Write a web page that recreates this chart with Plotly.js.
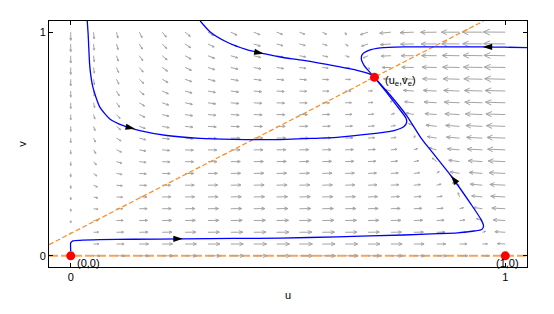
<!DOCTYPE html>
<html><head><meta charset="utf-8">
<script src="https://cdn.plot.ly/plotly-3.0.1.min.js"></script>
<style>html,body{margin:0;padding:0;background:#fff;overflow:hidden}</style>
</head><body>
<div id="chart" style="width:554px;height:314px"></div>
<script>
// ---- grid of the direction field (u across, v up) ----
const gridU = [0,.0526,.1053,.1579,.2105,.2632,.3158,.3684,.4211,.4737,.5263,.5789,.6316,.6842,.7368,.7895,.8421,.8947,.9474,1];
const gridV = [0,.0526,.1053,.1579,.2105,.2632,.3158,.3684,.4211,.4737,.5263,.5789,.6316,.6842,.7368,.7895,.8421,.8947,.9474,1];

// du at each grid node, rows = gridV (bottom to top)
const fieldU = [
[0,.0499,.0942,.1330,.1662,.1939,.2161,.2327,.2438,.2493,.2493,.2438,.2327,.2161,.1939,.1662,.1330,.0942,.0499,0],
[0,.0354,.0767,.1142,.1467,.1739,.1958,.2121,.2231,.2284,.2283,.2227,.2115,.1949,.1726,.1448,.1116,.0728,.0284,-.0215],
[0,.0284,.0653,.1003,.1312,.1574,.1785,.1943,.2047,.2096,.2092,.2033,.1918,.1749,.1525,.1249,.0915,.0526,.0081,-.0419],
[0,.0242,.0571,.0896,.1187,.1435,.1636,.1786,.1884,.1929,.1920,.1858,.1741,.1570,.1343,.1062,.0727,.0335,-.0111,-.0612],
[0,.0214,.0511,.0810,.1083,.1317,.1506,.1647,.1738,.1776,.1763,.1696,.1575,.1400,.1170,.0887,.0549,.0155,-.0293,-.0796],
[0,.0195,.0464,.0741,.0995,.1215,.1393,.1524,.1606,.1638,.1618,.1546,.1421,.1242,.1009,.0722,.0381,-.0015,-.0465,-.0971],
[0,.0180,.0428,.0684,.0921,.1126,.1292,.1413,.1487,.1511,.1485,.1408,.1277,.1094,.0857,.0566,.0222,-.0176,-.0629,-.1137],
[0,.0169,.0397,.0635,.0857,.1048,.1202,.1313,.1379,.1395,.1362,.1279,.1143,.0955,.0714,.0420,.0072,-.0330,-.0785,-.1296],
[0,.0160,.0372,.0594,.0800,.0978,.1121,.1222,.1279,.1288,.1248,.1158,.1017,.0825,.0579,.0281,-.0071,-.0476,-.0935,-.1448],
[0,.0152,.0351,.0558,.0751,.0917,.1049,.1140,.1188,.1189,.1142,.1047,.0900,.0702,.0452,.0149,-.0206,-.0615,-.1077,-.1593],
[0,.0146,.0333,.0527,.0707,.0862,.0983,.1065,.1105,.1098,.1045,.0943,.0790,.0588,.0333,.0026,-.0333,-.0746,-.1211,-.1731],
[0,.0141,.0317,.0500,.0668,.0812,.0923,.0996,.1027,.1013,.0953,.0845,.0687,.0479,.0219,-.0092,-.0455,-.0872,-.1341,-.1864],
[0,.0136,.0303,.0475,.0633,.0766,.0868,.0932,.0955,.0934,.0867,.0752,.0588,.0375,.0110,-.0205,-.0573,-.0993,-.1465,-.1991],
[0,.0132,.0292,.0454,.0601,.0725,.0818,.0873,.0888,.0860,.0786,.0666,.0496,.0278,.0008,-.0312,-.0683,-.1108,-.1584,-.2113],
[0,.0129,.0281,.0434,.0573,.0687,.0771,.0819,.0826,.0791,.0711,.0584,.0409,.0185,-.0089,-.0414,-.0789,-.1217,-.1697,-.2230],
[0,.0126,.0271,.0417,.0547,.0653,.0729,.0768,.0768,.0726,.0640,.0507,.0326,.0098,-.0182,-.0511,-.0891,-.1323,-.1806,-.2343],
[0,.0124,.0263,.0400,.0523,.0621,.0689,.0721,.0714,.0665,.0572,.0434,.0248,.0014,-.0270,-.0604,-.0988,-.1424,-.1911,-.2451],
[0,.0121,.0255,.0386,.0500,.0591,.0652,.0677,.0663,.0608,.0509,.0365,.0174,-.0066,-.0354,-.0692,-.1081,-.1521,-.2012,-.2555],
[0,.0119,.0248,.0373,.0480,.0564,.0617,.0636,.0616,.0554,.0449,.0300,.0103,-.0141,-.0435,-.0777,-.1170,-.1614,-.2109,-.2656],
[0,.0117,.0241,.0360,.0461,.0539,.0586,.0597,.0571,.0503,.0392,.0237,.0035,-.0214,-.0512,-.0859,-.1255,-.1703,-.2202,-.2752]
];
// dv at each grid node
const fieldV = [
[0,0,0,0,0,0,0,0,0,0,0,0,0,0,0,0,0,0,0,0],
[.0006,.0009,.0010,.0010,.0011,.0011,.0011,.0012,.0012,.0012,.0012,.0012,.0012,.0012,.0012,.0013,.0013,.0013,.0013,.0013],
[-.0001,.0008,.0013,.0016,.0017,.0019,.0020,.0020,.0021,.0021,.0022,.0022,.0023,.0023,.0023,.0023,.0023,.0024,.0024,.0024],
[-.0023,-.0001,.0009,.0015,.0019,.0022,.0024,.0026,.0028,.0029,.0030,.0030,.0031,.0032,.0032,.0033,.0033,.0033,.0034,.0034],
[-.0058,-.0020,-.0001,.0010,.0017,.0022,.0026,.0029,.0031,.0033,.0035,.0036,.0037,.0038,.0039,.0040,.0041,.0041,.0042,.0043],
[-.0107,-.0048,-.0019,-.0001,.0010,.0018,.0024,.0029,.0033,.0036,.0038,.0040,.0042,.0044,.0045,.0046,.0047,.0048,.0049,.0050],
[-.0170,-.0084,-.0043,-.0018,-.0001,.0010,.0019,.0026,.0031,.0035,.0039,.0042,.0045,.0047,.0049,.0051,.0052,.0054,.0055,.0056],
[-.0247,-.0130,-.0073,-.0039,-.0017,-.0001,.0011,.0020,.0027,.0033,.0038,.0042,.0046,.0049,.0051,.0054,.0056,.0058,.0060,.0061],
[-.0338,-.0185,-.0111,-.0067,-.0038,-.0017,-.0001,.0011,.0020,.0028,.0034,.0040,.0045,.0049,.0052,.0055,.0058,.0061,.0063,.0065],
[-.0442,-.0249,-.0155,-.0099,-.0062,-.0036,-.0016,-.0001,.0011,.0021,.0028,.0034,.0039,.0044,.0048,.0052,.0055,.0059,.0062,.0067],
[-.0561,-.0322,-.0206,-.0137,-.0092,-.0059,-.0035,-.0016,-.0001,.0011,.0019,.0027,.0033,.0039,.0044,.0049,.0053,.0057,.0060,.0066],
[-.0693,-.0404,-.0263,-.0180,-.0125,-.0086,-.0057,-.0034,-.0016,-.0001,.0011,.0021,.0030,.0038,.0045,.0051,.0056,.0061,.0065,.0069],
[-.0839,-.0496,-.0328,-.0229,-.0163,-.0117,-.0082,-.0055,-.0033,-.0016,-.0001,.0011,.0020,.0028,.0035,.0042,.0047,.0053,.0057,.0062],
[-.0999,-.0596,-.0399,-.0282,-.0206,-.0151,-.0110,-.0079,-.0054,-.0033,-.0016,-.0001,.0011,.0021,.0029,.0039,.0046,.0053,.0059,.0065],
[-.1173,-.0705,-.0477,-.0342,-.0253,-.0190,-.0142,-.0106,-.0076,-.0052,-.0032,-.0015,-.0001,.0011,.0022,.0031,.0039,.0047,.0054,.0061],
[-.1361,-.0824,-.0562,-.0407,-.0305,-.0232,-.0177,-.0135,-.0102,-.0074,-.0052,-.0032,-.0016,-.0001,.0011,.0022,.0032,.0041,.0049,.0056],
[-.1562,-.0951,-.0653,-.0477,-.0361,-.0278,-.0216,-.0168,-.0130,-.0099,-.0073,-.0051,-.0032,-.0015,.0000,.0013,.0022,.0032,.0041,.0049],
[-.1778,-.1088,-.0751,-.0553,-.0421,-.0328,-.0258,-.0204,-.0160,-.0125,-.0096,-.0071,-.0050,-.0031,-.0015,.0000,.0011,.0022,.0033,.0042],
[-.2007,-.1233,-.0856,-.0633,-.0486,-.0381,-.0303,-.0242,-.0194,-.0154,-.0121,-.0094,-.0070,-.0049,-.0031,-.0015,-.0001,.0011,.0023,.0033],
[-.2250,-.1388,-.0968,-.0719,-.0555,-.0439,-.0351,-.0284,-.0230,-.0186,-.0150,-.0119,-.0092,-.0069,-.0049,-.0031,-.0015,-.0001,.0011,.0023]
];

// ---- nullclines ----
const nullHU = [-0.05, 1.05], nullHV = [0, 0];
const nullDU = [-0.05, 0.95], nullDV = [0.05, 1.05];

// ---- trajectories ----
const t1U = [0.038,0.040,0.044,0.051,0.067,0.090,0.121,0.159,0.221,0.298,0.374,0.482,0.536,0.613,0.690,0.744,0.767,0.773,0.771,0.748,0.725,0.699];
const t1V = [1.05,0.994,0.844,0.754,0.665,0.612,0.582,0.560,0.538,0.525,0.521,0.520,0.524,0.530,0.545,0.560,0.578,0.597,0.617,0.677,0.735,0.798];
const t2U = [0.298,0.321,0.359,0.405,0.444,0.482,0.536,0.613,0.659,0.690,0.699];
const t2V = [1.05,1.001,0.956,0.922,0.904,0.889,0.874,0.847,0.829,0.811,0.798];
const t3U = [1.05,0.998,0.948,0.844,0.767,0.713,0.686,0.671,0.669,0.675,0.686,0.699];
const t3V = [0.931,0.933,0.934,0.934,0.934,0.930,0.919,0.901,0.877,0.852,0.826,0.798];
const t4U = [0,0,0.004,0.021,0.067,0.144,0.258,0.375,0.482,0.613,0.767,0.844,0.890,0.928,0.946,0.950,0.944,0.921,0.875,0.829,0.805,0.773,0.736,0.713,0.699];
const t4V = [0.021,0.058,0.066,0.069,0.072,0.074,0.076,0.078,0.079,0.085,0.093,0.099,0.103,0.111,0.118,0.133,0.163,0.231,0.358,0.470,0.530,0.627,0.717,0.767,0.798];

// arrowheads on the trajectories (position, and the point they head towards)
const headU = [0.148,0.444,0.948,0.258,0.875];
const headV = [0.568,0.904,0.934,0.076,0.358];
const headToU = [0.221,0.482,0.844,0.375,0.829];
const headToV = [0.538,0.889,0.934,0.078,0.470];

// ---- equilibria ----
const eqU = [0, 1, 0.699];
const eqV = [0, 0, 0.798];
const eqLabels = ['(0,0)', '(1,0)', '(u<sub>e</sub>,v<sub>e</sub>)'];

// ---- layout geometry ----
const W = 554, H = 314, M = {l:49, r:27, t:21, b:47, pad:0};
const xr = [-0.05, 1.05], yr = [-0.05, 1.05];
const pxU = (W - M.l - M.r) / (xr[1] - xr[0]);
const pxV = (H - M.t - M.b) / (yr[1] - yr[0]);

// quiver arrows as line segments (tail at the grid node)
const qx = [], qy = [];
for (let j = 0; j < gridV.length; j++) {
  for (let i = 0; i < gridU.length; i++) {
    const F = fieldU[j][i], G = fieldV[j][i];
    const S = Math.hypot(F, G);
    const x0 = gridU[i], y0 = gridV[j];
    if (S < 1e-6) { qx.push(x0, x0 + 0.6/pxU, null); qy.push(y0, y0, null); continue; }
    let L;
    if (F >= 0) L = 1.8 + 27 * Math.pow(Math.hypot(F, 0.4*G), 0.6);
    else L = 22 * Math.pow(S / 0.275, 0.4);
    const th = Math.atan2(G, F);
    const x1 = x0 + L*Math.cos(th)/pxU, y1 = y0 + L*Math.sin(th)/pxV;
    qx.push(x0, x1, null); qy.push(y0, y1, null);
    if (L > 2.2) {
      const h = Math.max(1.8, 0.33*L), a = 0.42;
      qx.push(x1 - h*Math.cos(th - a)/pxU, x1, x1 - h*Math.cos(th + a)/pxU, null);
      qy.push(y1 - h*Math.sin(th - a)/pxV, y1, y1 - h*Math.sin(th + a)/pxV, null);
    }
  }
}

const headAngles = headU.map((u, k) => {
  const dx = (headToU[k] - u) * pxU, dy = (headToV[k] - headV[k]) * pxV;
  return Math.atan2(dx, dy) * 180 / Math.PI;
});

const blue = {color:'#0000ff', width:1.3, shape:'spline', smoothing:0.6};
const traces = [
  {x: nullHU, y: nullHV, mode:'lines', line:{color:'#f7a35c', width:2, dash:'9px,3px'}, hoverinfo:'skip'},
  {x: qx, y: qy, mode:'lines', line:{color:'#a4a4a4', width:1}, hoverinfo:'skip'},
  {x: nullDU, y: nullDV, mode:'lines', line:{color:'#ff8a1e', width:1.2, dash:'5px,2.5px'}, hoverinfo:'skip'},
  {x: t1U, y: t1V, mode:'lines', line: blue, hoverinfo:'skip'},
  {x: t2U, y: t2V, mode:'lines', line: blue, hoverinfo:'skip'},
  {x: t3U, y: t3V, mode:'lines', line: blue, hoverinfo:'skip'},
  {x: t4U, y: t4V, mode:'lines', line: blue, hoverinfo:'skip'},
  {x: headU, y: headV, mode:'markers', marker:{symbol:'arrow', size:10, color:'#000', angle: headAngles, line:{width:0}}, hoverinfo:'skip'},
  {x: eqU, y: eqV, mode:'markers', marker:{color:'#ff0000', size:9, line:{width:0}}, hoverinfo:'skip', cliponaxis:false}
];

const axisCommon = {
  tickvals:[0,1], ticktext:['0','1'], ticks:'inside', ticklen:4, tickwidth:1, tickcolor:'#000',
  showline:true, linecolor:'#000', linewidth:1, mirror:'ticks', showgrid:false, zeroline:false,
  tickfont:{size:11, color:'#000'}
};
const layout = {
  width: W, height: H, margin: M, showlegend:false,
  paper_bgcolor:'#fff', plot_bgcolor:'#fff',
  font:{family:'Liberation Sans, Arial, Helvetica, sans-serif', size:11, color:'#000'},
  xaxis: Object.assign({}, axisCommon, {range: xr, title:{text:'u', font:{size:11, color:'#000'}, standoff:9}}),
  yaxis: Object.assign({}, axisCommon, {range: yr, title:{text:'v', font:{size:11, color:'#000'}, standoff:10}}),
  annotations: [
    {x: eqU[0], y: eqV[0], text: eqLabels[0], showarrow:false, xanchor:'left', yanchor:'middle', xshift:4, yshift:-7, font:{size:11, color:'#000'}},
    {x: eqU[1], y: eqV[1], text: eqLabels[1], showarrow:false, xanchor:'center', yanchor:'middle', xshift:2, yshift:-7, font:{size:11, color:'#000'}},
    {x: eqU[2], y: eqV[2], text: eqLabels[2], showarrow:false, xanchor:'left', yanchor:'middle', xshift:9, yshift:-4, font:{size:11, color:'#000'}}
  ]
};
Plotly.newPlot('chart', traces, layout, {staticPlot:true, displayModeBar:false});
</script>
</body></html>
